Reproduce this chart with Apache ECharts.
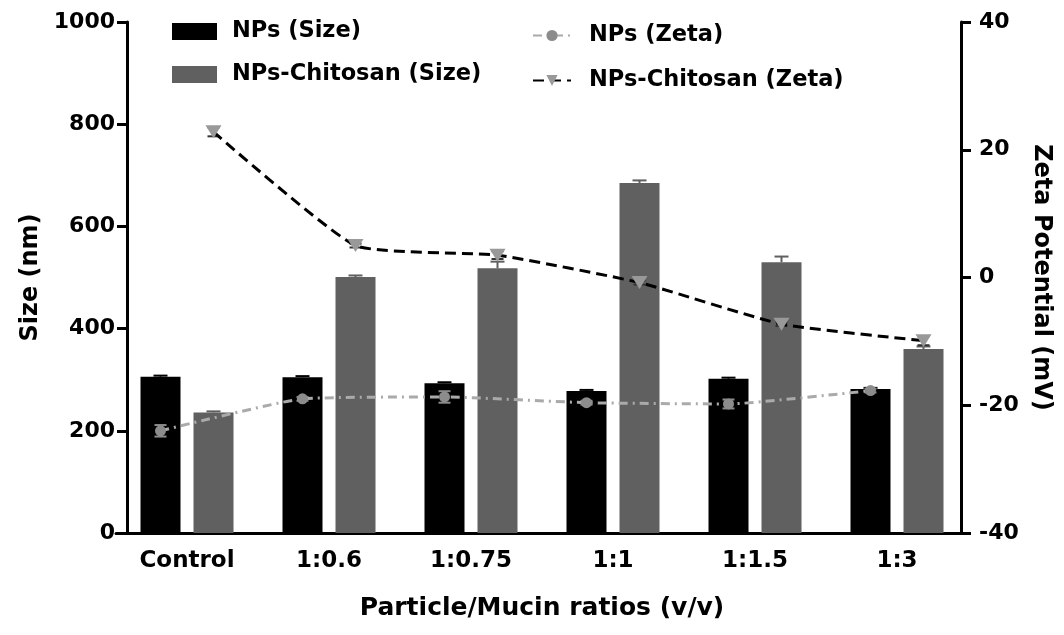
<!DOCTYPE html>
<html>
<head>
<meta charset="utf-8">
<script src="https://cdn.jsdelivr.net/npm/echarts@6.0.0/dist/echarts.min.js"></script>
<style>
  html, body { margin: 0; padding: 0; background: #fff; }
  #chart { width: 1064px; height: 635px; }
</style>
</head>
<body>
<div id="chart"></div>
<script>
// ---- data ----
const categories = ['Control', '1:0.6', '1:0.75', '1:1', '1:1.5', '1:3'];
const npsSize = [306, 305, 293, 278, 302, 282];
const npsSizeErr = [2, 2, 2, 2, 2, 2];
const chitoSize = [236, 501, 518, 685, 530, 360];
const chitoSizeErr = [2, 3, 13, 5, 11, 5];
const npsZeta = [-24.0, -19.0, -18.7, -19.6, -19.8, -17.7];
const npsZetaErr = [0.9, 0.3, 0.9, 0.3, 0.7, 0.3];
const chitoZeta = [22.8, 5.0, 3.5, -0.8, -7.3, -9.9];
const chitoZetaErr = [0.7, 0.3, 0.6, 0.3, 0.3, 0.7];
const sizeAxis = { min: 0, max: 1000, interval: 200 };
const zetaAxis = { min: -40, max: 40, interval: 20 };

// ---- layout / style ----
const FONT = "'DejaVu Sans', sans-serif";
const W = 1064;
const GRID = { left: 116, right: 96, top: 22, bottom: 102 };
const BAR_W = 40, BAR_GAP = 13;
const SHIFT_PX = (BAR_W + BAR_GAP) / 2;
const bandPx = (W - GRID.left - GRID.right) / categories.length;
const SHIFT = SHIFT_PX / bandPx;

const el = document.getElementById('chart');
const chart = echarts.init(el, null, { renderer: 'canvas' });

const txt = (size) => ({ fontFamily: FONT, fontWeight: 'bold', fontSize: size, color: '#000' });

function barErr(dx, color) {
  return function (params, api) {
    const i = api.value(0), v = api.value(1), e = api.value(2);
    const b = api.coord([i, v]);
    const t = api.coord([i, v + e]);
    const x = b[0] + dx;
    return {
      type: 'group',
      children: [
        { type: 'line', shape: { x1: x, y1: b[1], x2: x, y2: t[1] }, style: { stroke: color, lineWidth: 2 } },
        { type: 'line', shape: { x1: x - 7, y1: t[1], x2: x + 7, y2: t[1] }, style: { stroke: color, lineWidth: 2 } }
      ]
    };
  };
}
function zetaErr(color) {
  return function (params, api) {
    const x0 = api.value(0), v = api.value(1), e = api.value(2);
    const lo = api.coord([x0, v - e]);
    const hi = api.coord([x0, v + e]);
    const x = lo[0];
    return {
      type: 'group',
      children: [
        { type: 'line', shape: { x1: x, y1: lo[1], x2: x, y2: hi[1] }, style: { stroke: color, lineWidth: 2 } },
        { type: 'line', shape: { x1: x - 6, y1: lo[1], x2: x + 6, y2: lo[1] }, style: { stroke: color, lineWidth: 2 } },
        { type: 'line', shape: { x1: x - 6, y1: hi[1], x2: x + 6, y2: hi[1] }, style: { stroke: color, lineWidth: 2 } }
      ]
    };
  };
}

const axisLineStyle = { color: '#000', width: 3 };

const option = {
  animation: false,
  backgroundColor: '#fff',
  grid: { left: GRID.left, right: GRID.right, top: GRID.top, bottom: GRID.bottom },
  legend: [
    {
      data: ['NPs (Size)', 'NPs-Chitosan (Size)'],
      orient: 'vertical', left: 167, top: 15,
      icon: 'rect',
      itemWidth: 45, itemHeight: 17, itemGap: 20,
      selectedMode: false,
      textStyle: Object.assign(txt(22.5), { padding: [0, 0, 0, 10] })
    },
    {
      data: ['NPs (Zeta)', 'NPs-Chitosan (Zeta)'],
      orient: 'vertical', left: 527, top: 19,
      itemWidth: 38, itemHeight: 14, itemGap: 22,
      selectedMode: false,
      textStyle: Object.assign(txt(22.5), { padding: [0, 0, 0, 13] })
    }
  ],
  xAxis: [
    {
      type: 'category', data: categories, boundaryGap: true,
      axisLine: { onZero: false, lineStyle: axisLineStyle },
      axisTick: { alignWithLabel: true, length: 10, lineStyle: axisLineStyle },
      axisLabel: Object.assign(txt(23), { margin: 17 }),
      name: 'Particle/Mucin ratios (v/v)', nameLocation: 'middle', nameGap: 63,
      nameTextStyle: txt(25)
    },
    { type: 'value', min: -0.5, max: 5.5, show: false }
  ],
  yAxis: [
    {
      type: 'value', min: sizeAxis.min, max: sizeAxis.max, interval: sizeAxis.interval,
      position: 'left', offset: -11,
      axisLine: { show: true, onZero: false, lineStyle: axisLineStyle },
      axisTick: { show: true, length: 10, lineStyle: axisLineStyle },
      splitLine: { show: false },
      axisLabel: Object.assign(txt(22), { margin: 12, formatter: (v) => String(v) }),
      name: 'Size (nm)', nameLocation: 'middle', nameGap: 84,
      nameTextStyle: txt(24)
    },
    {
      type: 'value', min: zetaAxis.min, max: zetaAxis.max, interval: zetaAxis.interval,
      position: 'right', offset: -7,
      axisLine: { show: true, onZero: false, lineStyle: axisLineStyle },
      axisTick: { show: true, length: 10, lineStyle: axisLineStyle },
      splitLine: { show: false },
      axisLabel: Object.assign(txt(22), { margin: 18, formatter: (v) => String(v) }),
      name: 'Zeta Potential (mV)', nameLocation: 'middle', nameGap: 68, nameRotate: -90,
      nameTextStyle: Object.assign(txt(24), { padding: [0, 0, 0, 0] })
    }
  ],
  series: [
    {
      name: 'NPs (Size)', type: 'bar', data: npsSize,
      barWidth: BAR_W, barGap: (BAR_GAP / BAR_W * 100) + '%',
      itemStyle: { color: '#000' }, z: 2
    },
    {
      name: 'NPs-Chitosan (Size)', type: 'bar', data: chitoSize,
      barWidth: BAR_W,
      itemStyle: { color: '#606060' }, z: 2
    },
    {
      type: 'custom', renderItem: barErr(-SHIFT_PX, '#000'),
      data: categories.map((c, i) => [i, npsSize[i], npsSizeErr[i]]), z: 3, silent: true
    },
    {
      type: 'custom', renderItem: barErr(SHIFT_PX, '#606060'),
      data: categories.map((c, i) => [i, chitoSize[i], chitoSizeErr[i]]), z: 3, silent: true
    },
    {
      type: 'custom', xAxisIndex: 1, yAxisIndex: 1, renderItem: zetaErr('#8c8c8c'),
      data: categories.map((c, i) => [i - SHIFT, npsZeta[i], npsZetaErr[i]]), z: 4, silent: true
    },
    {
      type: 'custom', xAxisIndex: 1, yAxisIndex: 1, renderItem: zetaErr('#333'),
      data: categories.map((c, i) => [i + SHIFT, chitoZeta[i], chitoZetaErr[i]]), z: 4, silent: true
    },
    {
      name: 'NPs (Zeta)', type: 'line', xAxisIndex: 1, yAxisIndex: 1,
      data: categories.map((c, i) => [i - SHIFT, npsZeta[i]]),
      smooth: 0.15, symbol: 'circle', symbolSize: 11, showAllSymbol: true,
      itemStyle: { color: '#8c8c8c' },
      lineStyle: { color: '#aaaaaa', width: 3, type: [9, 5, 2, 5] }, z: 5
    },
    {
      name: 'NPs-Chitosan (Zeta)', type: 'line', xAxisIndex: 1, yAxisIndex: 1,
      data: categories.map((c, i) => [i + SHIFT, chitoZeta[i]]),
      smooth: 0.15, symbol: 'triangle', symbolRotate: 180, symbolSize: [16, 13], showAllSymbol: true,
      itemStyle: { color: '#999999' },
      lineStyle: { color: '#000', width: 3, type: [11, 6] }, z: 5
    }
  ]
};
chart.setOption(option);
</script>
</body>
</html>
